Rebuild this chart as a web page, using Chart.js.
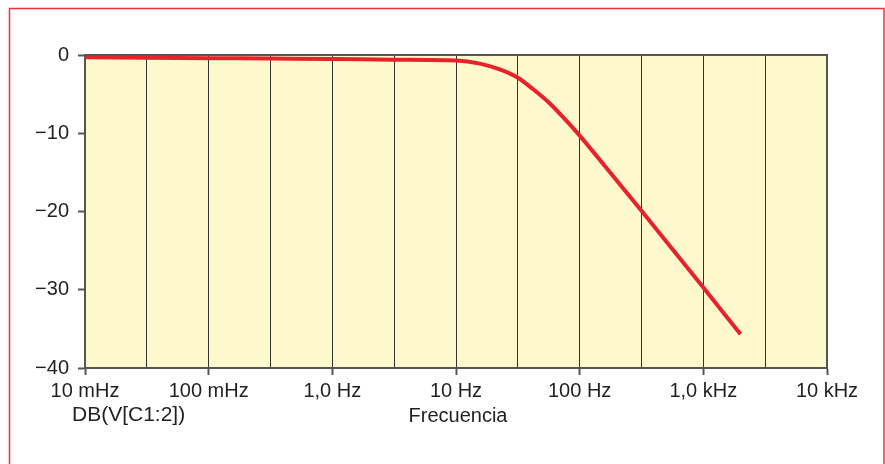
<!DOCTYPE html>
<html>
<head>
<meta charset="utf-8">
<script src="https://cdn.jsdelivr.net/npm/chart.js@4/dist/chart.umd.min.js"></script>
<style>
  html, body { margin: 0; padding: 0; background: #fff; }
  canvas { display: block; }
</style>
</head>
<body>
<canvas id="chartBode" width="885" height="464"></canvas>
<script>
// datos
const frecuencias = [0.01, 0.0316, 0.1, 0.316, 1, 3.16, 10, 15.6, 22.6, 31.6, 41.9, 57.4, 78, 100, 166, 316, 1000, 2000];
const gananciaDb  = [-0.3, -0.35, -0.4, -0.45, -0.5, -0.6, -0.7, -1.1, -1.85, -2.9, -4.35, -6.2, -8.4, -10.3, -14.5, -19.9, -29.7, -35.7];

const decadas = [0.01, 0.1, 1, 10, 100, 1000, 10000];
const etiquetasX = ['10 mHz', '100 mHz', '1,0 Hz', '10 Hz', '100 Hz', '1,0 kHz', '10 kHz'];
const ticksY = [0, -10, -20, -30, -40];

const tituloY = 'DB(V[C1:2])';
const tituloX = 'Frecuencia';

const fuente = '"Liberation Sans", Arial, sans-serif';
const colorTexto = '#231f20';

// lineas de rejilla cada media decada
const ticksX = [];
decadas.forEach((d, i) => {
    ticksX.push(d);
    if (i < decadas.length - 1) ticksX.push(d * Math.sqrt(10));
});

const marcoPlugin = {
    id: 'marco',
    beforeDraw(chart) {
        const { ctx, chartArea: a } = chart;
        ctx.save();
        ctx.fillStyle = '#fef9cc';
        ctx.fillRect(a.left, a.top, a.right - a.left, a.bottom - a.top);
        ctx.restore();
    },
    afterDraw(chart) {
        const { ctx, chartArea: a } = chart;
        ctx.save();
        // borde superior y derecho del area
        ctx.strokeStyle = '#555';
        ctx.lineWidth = 2;
        ctx.beginPath();
        ctx.moveTo(a.left, a.top);
        ctx.lineTo(a.right, a.top);
        ctx.lineTo(a.right, a.bottom);
        ctx.stroke();

        // textos de abajo
        ctx.fillStyle = colorTexto;
        ctx.textBaseline = 'middle';
        ctx.textAlign = 'left';
        ctx.font = '21px ' + fuente;
        ctx.fillText(tituloY, 72, 415);
        ctx.textAlign = 'center';
        ctx.font = '20px ' + fuente;
        ctx.fillText(tituloX, 458, 416);

        // marco rojo
        ctx.strokeStyle = '#e8323a';
        ctx.lineWidth = 1.5;
        ctx.beginPath();
        ctx.moveTo(9.5, 470);
        ctx.lineTo(9.5, 8.5);
        ctx.lineTo(884, 8.5);
        ctx.lineTo(884, 470);
        ctx.stroke();
        ctx.restore();
    }
};

const ctx = document.getElementById('chartBode').getContext('2d');

new Chart(ctx, {
    type: 'line',
    data: {
        datasets: [{
            data: frecuencias.map((f, i) => ({ x: f, y: gananciaDb[i] })),
            borderColor: '#e8212b',
            borderWidth: 4,
            pointRadius: 0,
            fill: false,
            cubicInterpolationMode: 'monotone'
        }]
    },
    options: {
        responsive: false,
        animation: false,
        layout: {
            padding: { left: 0, top: 55, right: 58, bottom: 0 }
        },
        plugins: {
            legend: { display: false },
            tooltip: { enabled: false }
        },
        scales: {
            x: {
                type: 'logarithmic',
                min: 0.01,
                max: 10000,
                afterBuildTicks: (scale) => {
                    scale.ticks = ticksX.map(v => ({ value: v }));
                },
                afterFit: (scale) => { scale.height = 96; },
                ticks: {
                    autoSkip: false,
                    maxRotation: 0,
                    padding: 4,
                    color: colorTexto,
                    font: { family: fuente, size: 20 },
                    callback: (value, index) => (index % 2 === 0 ? etiquetasX[index / 2] : '')
                },
                grid: {
                    color: '#333',
                    lineWidth: 1,
                    drawOnChartArea: true,
                    drawTicks: true,
                    tickLength: 7,
                    tickColor: (c) => (c.index % 2 === 0 ? '#555' : 'rgba(0,0,0,0)'),
                    tickWidth: 2
                },
                border: { display: true, color: '#555', width: 2 }
            },
            y: {
                min: -40,
                max: 0,
                afterBuildTicks: (scale) => {
                    scale.ticks = ticksY.map(v => ({ value: v }));
                },
                afterFit: (scale) => { scale.width = 85; },
                ticks: {
                    padding: 9,
                    color: colorTexto,
                    font: { family: fuente, size: 20 },
                    callback: (v) => (v < 0 ? '\u2212' + Math.abs(v) : String(v))
                },
                grid: {
                    drawOnChartArea: false,
                    drawTicks: true,
                    tickLength: 7,
                    tickColor: '#555',
                    tickWidth: 2
                },
                border: { display: true, color: '#555', width: 2 }
            }
        }
    },
    plugins: [marcoPlugin]
});
</script>
</body>
</html>
